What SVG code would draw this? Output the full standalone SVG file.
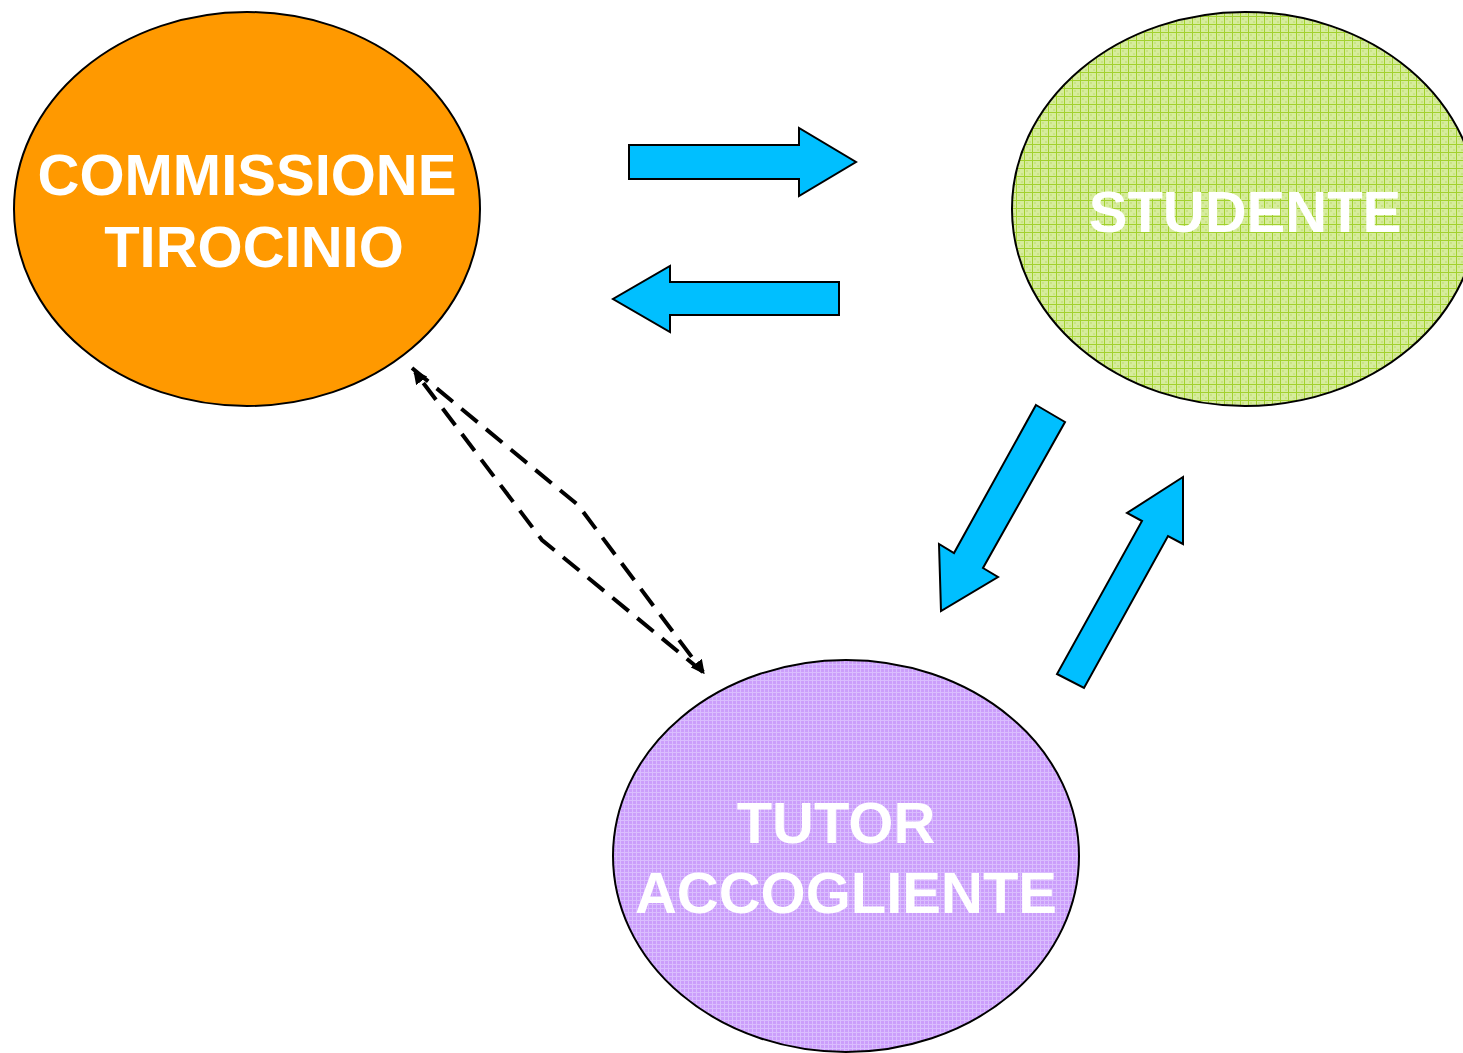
<svg xmlns="http://www.w3.org/2000/svg" width="1463" height="1053" viewBox="0 0 1463 1053">
<defs>
<pattern id="pGreen" width="8" height="8" patternUnits="userSpaceOnUse">
<rect width="8" height="8" fill="#D6EC9C"/>
<rect x="2" y="2" width="2" height="2" fill="#C9E385"/>
<rect x="5" y="5" width="2" height="2" fill="#C9E385"/>
<path d="M0 0.5H8M0.5 0V8" stroke="#A2D12E" stroke-width="1"/>
</pattern>
<pattern id="pPurple" width="4" height="4" patternUnits="userSpaceOnUse">
<rect width="4" height="4" fill="#CB9EFB"/>
<path d="M0 0.5H4M0.5 0V4" stroke="#DABDFE" stroke-width="1"/>
</pattern>
<marker id="ah" viewBox="0 0 10 10" refX="8" refY="5" markerWidth="3.5" markerHeight="3.5" orient="auto" markerUnits="strokeWidth">
<path d="M0 0L10 5L0 10z" fill="#000"/>
</marker>
<style>
.node{stroke:#000;stroke-width:2}
.lbl{font-family:"Liberation Sans",Arial,sans-serif;font-weight:bold;font-size:58px;fill:#fff;text-anchor:middle}
.arr{fill:#00BFFF;stroke:#000;stroke-width:2;stroke-linejoin:miter}
.dash{fill:none;stroke:#000;stroke-width:4;stroke-dasharray:21 11}
</style>
</defs>
<rect width="1463" height="1053" fill="#fff"/>
<g id="commissione">
<ellipse class="node" cx="247" cy="209" rx="233" ry="197" fill="#FF9900"/>
<text class="lbl" x="247" y="195">COMMISSIONE</text>
<text class="lbl" x="254" y="267">TIROCINIO</text>
</g>
<g id="studente">
<ellipse class="node" cx="1245" cy="209" rx="233" ry="197" fill="url(#pGreen)"/>
<text class="lbl" x="1245" y="232">STUDENTE</text>
</g>
<g id="tutor">
<ellipse class="node" cx="846" cy="856" rx="233" ry="196" fill="url(#pPurple)"/>
<text class="lbl" x="836" y="843">TUTOR</text>
<text class="lbl" x="846" y="913">ACCOGLIENTE</text>
</g>
<g id="connectors">
<polygon class="arr" points="629,145 799,145 799,128 856,162 799,196 799,179 629,179"/>
<polygon class="arr" points="839,282 670,282 670,266 613,299 670,332 670,315 839,315"/>
<polygon class="arr" points="1036,405 1065,422 983,568 998,577 941,611 939,544 954,553"/>
<polygon class="arr" points="1057,674 1084,688 1168,536 1183,544 1183,477 1127,513 1142,521"/>
<polyline class="dash" points="412,368 578,505 703,672" marker-end="url(#ah)"/>
<polyline class="dash" points="703,672 542,540 415,372" marker-end="url(#ah)"/>
</g>
</svg>
